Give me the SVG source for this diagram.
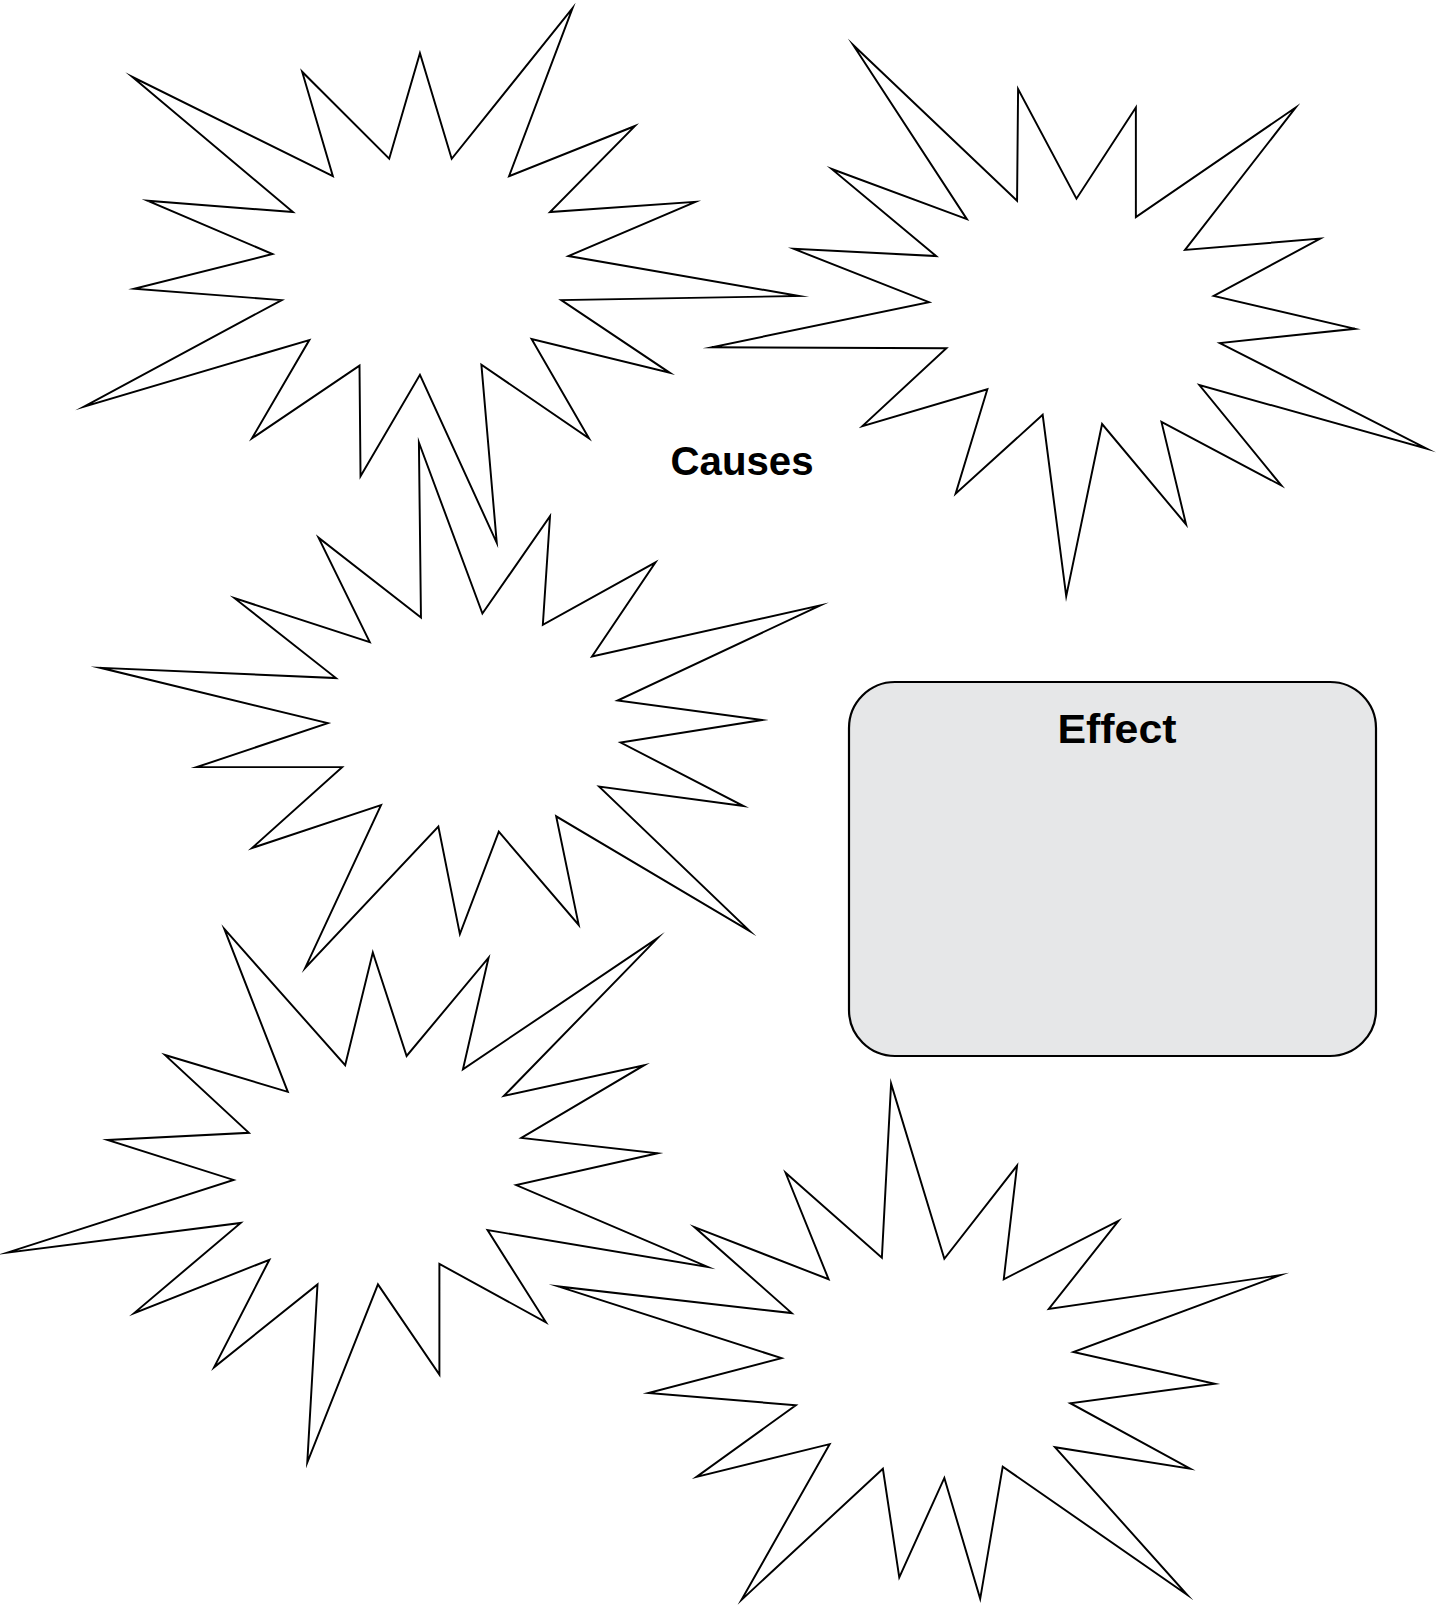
<svg xmlns="http://www.w3.org/2000/svg" width="1437" height="1606" viewBox="0 0 1437 1606">
  <style>
    .burst { fill: #ffffff; stroke: #000000; stroke-width: 1.9; stroke-linejoin: miter; stroke-miterlimit: 12; }
    .box { fill: #e6e7e8; stroke: #000000; stroke-width: 2.2; }
    .label { font-family: "Liberation Sans", Arial, sans-serif; font-weight: bold; font-size: 41px; fill: #000000; text-anchor: middle; }
  </style>
  <rect width="1437" height="1606" fill="#ffffff"/>
  <g id="causes-label">
    <text class="label" x="742" y="475" textLength="143" lengthAdjust="spacingAndGlyphs">Causes</text>
  </g>
  <g transform="scale(1.02423)">
    <g id="cause-1">
      <polygon class="burst" points="559,8 497,172 620,123 537,207 679,197 555,250 780,289 548,293 654,364 519,331 575,428 470,356 485,530 410,366 352,465 351,357 246,428 302,332 82,397 275,293 131,282 266,248 144,196 286,207 129,75 325,172 295,70 380,155 410,52 441,155"/>
    </g>
    <g id="cause-2">
      <polygon class="burst" points="833,44 944,214 812,165 914,250 775,243 907,295 695,339 924,340 842,416 964,380 933,482 1018,405 1041,582 1076,414 1158,512 1134,412 1251,474 1171,376 1393,438 1191,335 1323,321 1185,289 1289,233 1157,244 1265,105 1109,212 1109,105 1051,194 994,87 993,196"/>
    </g>
    <g id="cause-3">
      <polygon class="burst" points="409,432 471,599 537,504 530,610 640,549 578,641 801,591 603,684 744,703 606,725 726,787 585,768 732,909 543,797 565,903 487,812 449,912 428,807 298,945 372,786 246,828 334,749 192,749 320,706 98,652 328,662 229,584 361,627 311,525 411,603"/>
    </g>
    <g id="cause-4">
      <polygon class="burst" points="219,907 337,1040 364,930 397,1031 477,935 452,1044 642,916 492,1070 629,1040 509,1111 642,1126 504,1157 691,1237 476,1201 533,1291 429,1234 429,1342 369,1254 300,1428 310,1254 209,1335 263,1230 131,1282 235,1194 7,1223 228,1152 105,1113 243,1106 161,1030 281,1066"/>
    </g>
    <g id="cause-5">
      <polygon class="burst" points="870,1058 922,1229 993,1138 980,1249 1092,1192 1024,1278 1250,1245 1048,1320 1186,1351 1045,1370 1162,1434 1030,1413 1159,1557 979,1432 957,1561 922,1443 878,1540 862,1434 724,1562 810,1410 680,1442 777,1372 633,1360 763,1326 545,1256 773,1282 678,1198 809,1249 767,1145 861,1228"/>
    </g>
  </g>
  <g id="effect">
    <rect class="box" x="849" y="682" width="527" height="374" rx="46" ry="46"/>
    <text class="label" x="1117" y="743" textLength="119" lengthAdjust="spacingAndGlyphs">Effect</text>
  </g>
  <g id="connectors"/>
</svg>
